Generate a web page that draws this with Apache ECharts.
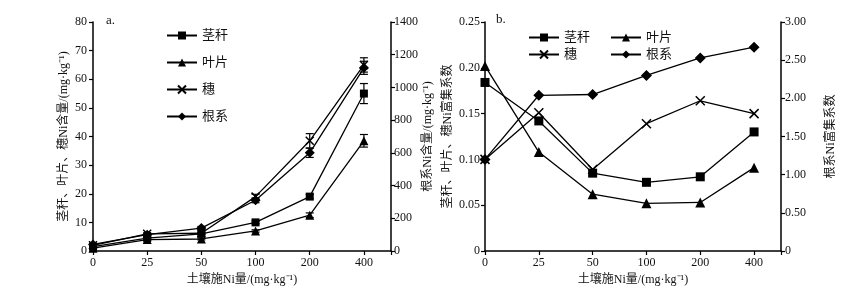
<!DOCTYPE html>
<html><head><meta charset="utf-8">
<script src="https://cdn.jsdelivr.net/npm/echarts@6/dist/echarts.min.js"></script>
<style>html,body{margin:0;padding:0;background:#fff}#c{width:846px;height:288px}</style>
</head><body><div id="c"></div>
<script>
// categories (soil Ni applied, mg/kg)
const categories = ['0', '25', '50', '100', '200', '400'];
// panel a: Ni content
const stemA = [1.5, 4.5, 6.0, 10.0, 19.0, 55.0];
const stemAErr = [0.3, 0.3, 0.3, 0.5, 0.8, 3.5];
const leafA = [1.0, 4.0, 4.2, 7.0, 12.5, 38.5];
const leafAErr = [0.3, 0.3, 0.3, 0.4, 0.8, 2.2];
const panicleA = [2.0, 6.0, 6.2, 19.0, 38.5, 65.0];
const panicleAErr = [0.3, 0.4, 0.4, 0.8, 2.5, 2.5];
const rootA = [40, 100, 140, 310, 600, 1120];
const rootAErr = [5, 8, 10, 15, 28, 40];
// panel b: enrichment coefficient
const stemB = [0.184, 0.142, 0.085, 0.075, 0.081, 0.130];
const leafB = [0.202, 0.108, 0.062, 0.052, 0.053, 0.091];
const panicleB = [0.100, 0.151, 0.089, 0.139, 0.164, 0.150];
const rootB = [1.20, 2.04, 2.05, 2.30, 2.53, 2.67];

const FONT = '"Liberation Serif", "Noto Sans CJK SC", serif';
const X_PATH = 'path://M0,0L10,10M10,0L0,10';

const pairs = arr => arr.map((v, i) => [i, v]);
const triples = (arr, err) => arr.map((v, i) => [i, v, err[i]]);

function errSeries(arr, err, xi, yi) {
  return {
    type: 'custom', xAxisIndex: xi, yAxisIndex: yi, z: 1, silent: true,
    data: triples(arr, err), encode: {x: 0, y: 1},
    renderItem: function (params, api) {
      const x = api.value(0), y = api.value(1), e = api.value(2);
      const t = api.coord([x, y + e]);
      const b = api.coord([x, y - e]);
      const w = 4;
      const st = {stroke: '#000', lineWidth: 1.2};
      return {type: 'group', children: [
        {type: 'line', shape: {x1: t[0], y1: t[1], x2: b[0], y2: b[1]}, style: st},
        {type: 'line', shape: {x1: t[0] - w, y1: t[1], x2: t[0] + w, y2: t[1]}, style: st},
        {type: 'line', shape: {x1: b[0] - w, y1: b[1], x2: b[0] + w, y2: b[1]}, style: st}
      ]};
    }
  };
}

function lineSeries(name, arr, symbol, size, xi, yi) {
  const isX = symbol === X_PATH;
  return {
    name: name, type: 'line', xAxisIndex: xi, yAxisIndex: yi, z: 3,
    data: pairs(arr), symbol: symbol, symbolSize: size, showSymbol: true,
    lineStyle: {color: '#000', width: 1.3},
    itemStyle: isX ? {color: 'rgba(0,0,0,0)', borderColor: '#000', borderWidth: 1.5}
                   : {color: '#000', borderColor: '#000', borderWidth: 0},
    emphasis: {disabled: true}, animation: false
  };
}

const axisCommon = {
  axisLine: {show: true, lineStyle: {color: '#000', width: 1.5}},
  axisTick: {show: true, length: 4, lineStyle: {color: '#000', width: 1.2}},
  axisLabel: {color: '#111', fontFamily: FONT, fontSize: 12},
  splitLine: {show: false},
  nameTextStyle: {color: '#111', fontFamily: FONT, fontSize: 12}
};

function xAx(gi) {
  return Object.assign({}, axisCommon, {
    type: 'value', gridIndex: gi, min: 0, max: 5.5, interval: 1,
    axisLabel: Object.assign({}, axisCommon.axisLabel, {margin: 6,
      formatter: v => (Number.isInteger(v) && categories[v] !== undefined) ? categories[v] : ''}),
    name: '土壤施Ni量/(mg·kg⁻¹)', nameLocation: 'middle', nameGap: 22
  });
}
function yAx(gi, pos, min, max, interval, name, gap, fmt, margin) {
  return Object.assign({}, axisCommon, {
    type: 'value', gridIndex: gi, position: pos, min: min, max: max, interval: interval,
    axisLabel: Object.assign({}, axisCommon.axisLabel, {margin: margin, formatter: fmt}),
    name: name, nameLocation: 'middle', nameGap: gap, nameRotate: 90
  });
}
const fmt2 = v => v === 0 ? '0' : v.toFixed(2);

const legText = {color: '#111', fontFamily: FONT, fontSize: 13};
function leg(names, left, top, orient, gap) {
  return {data: names, left: left, top: top, orient: orient || 'horizontal', itemGap: gap || 10,
    padding: 0, itemWidth: 30, itemHeight: 10, textStyle: legText, selectedMode: false};
}

const chart = echarts.init(document.getElementById('c'), null, {renderer: 'canvas'});
chart.setOption({
  animation: false,
  backgroundColor: '#fff',
  grid: [
    {left: 93, right: 455, top: 22, bottom: 37, containLabel: false, outerBoundsMode: 'none'},
    {left: 485, right: 65, top: 22, bottom: 37, containLabel: false, outerBoundsMode: 'none'}
  ],
  xAxis: [xAx(0), xAx(1)],
  yAxis: [
    yAx(0, 'left', 0, 80, 10, '茎秆、叶片、穗Ni含量/(mg·kg⁻¹)', 23, v => String(v), 6),
    yAx(0, 'right', 0, 1400, 200, '根系Ni含量/(mg·kg⁻¹)', 25, v => String(v), 3),
    yAx(1, 'left', 0, 0.25, 0.05, '茎秆、叶片、穗Ni富集系数', 31, fmt2, 5),
    yAx(1, 'right', 0, 3, 0.5, '根系Ni富集系数', 44, fmt2, 4)
  ],
  legend: [
    leg(['茎秆', '叶片', '穗', '根系'], 166, 29, 'vertical', 14),
    leg(['茎秆'], 528, 31), leg(['叶片'], 610, 31),
    leg(['穗'], 528, 48), leg(['根系'], 610, 48)
  ],
  graphic: [
    {type: 'text', left: 106, top: 14, style: {text: 'a.', fontFamily: FONT, fontSize: 13, fill: '#111'}},
    {type: 'text', left: 496, top: 13, style: {text: 'b.', fontFamily: FONT, fontSize: 13, fill: '#111'}}
  ],
  series: [
    errSeries(stemA, stemAErr, 0, 0),
    errSeries(leafA, leafAErr, 0, 0),
    errSeries(panicleA, panicleAErr, 0, 0),
    errSeries(rootA, rootAErr, 0, 1),
    lineSeries('茎秆', stemA, 'rect', 8, 0, 0),
    lineSeries('叶片', leafA, 'triangle', 9, 0, 0),
    lineSeries('穗', panicleA, X_PATH, 8, 0, 0),
    lineSeries('根系', rootA, 'diamond', 10, 0, 1),
    lineSeries('茎秆', stemB, 'rect', 9, 1, 2),
    lineSeries('叶片', leafB, 'triangle', 10, 1, 2),
    lineSeries('穗', panicleB, X_PATH, 9, 1, 2),
    lineSeries('根系', rootB, 'diamond', 11, 1, 3)
  ]
});
</script></body></html>
